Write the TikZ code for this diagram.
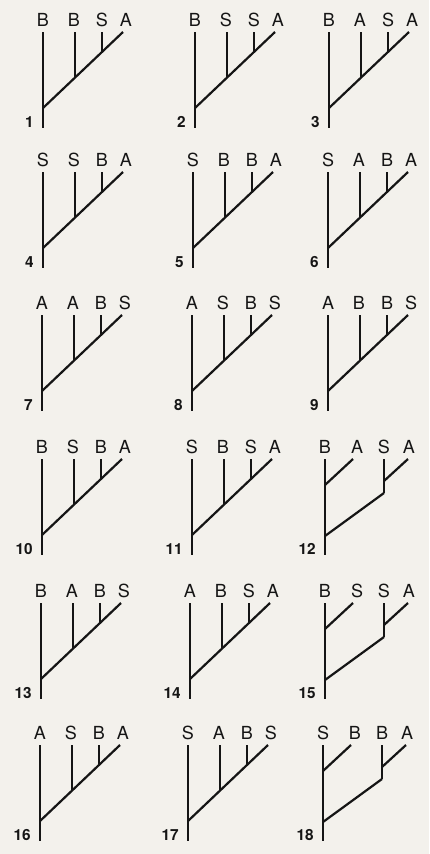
\documentclass[tikz,border=0pt]{standalone}
\usepackage{fontspec}
\setmainfont{TeX Gyre Heros}
\usetikzlibrary{calc}
\definecolor{paper}{HTML}{F3F1EC}
\definecolor{ink}{HTML}{151515}
\tikzset{
  branch/.style={draw=ink, line width=1.65pt},
  leaflabel/.style={text=ink, font=\fontsize{13.5}{15}\selectfont, inner sep=0pt, anchor=base},
  treenum/.style={text=ink, font=\fontsize{11.5}{13}\selectfont\bfseries, inner sep=0pt, anchor=base east},
}
% caterpillar tree: name, root x, tip y, number, four leaf labels
\newcommand\cattree[8]{%
  \coordinate (#1-b) at (#2,#3+96);
  \coordinate (#1-j1) at (#2,#3+76);
  \coordinate (#1-j2) at (#2+32,#3+45.6);
  \coordinate (#1-j3) at (#2+59,#3+19.9);
  \coordinate (#1-t1) at (#2,#3);
  \coordinate (#1-t2) at (#2+32,#3);
  \coordinate (#1-t3) at (#2+59,#3);
  \coordinate (#1-t4) at (#2+80,#3);
  \draw[branch] (#1-t1) -- (#1-b);
  \draw[branch] (#1-j1) -- (#1-t4);
  \draw[branch] (#1-t2) -- (#1-j2);
  \draw[branch] (#1-t3) -- (#1-j3);
  \node[leaflabel] (#1-l1) at (#2,#3-6) {#5};
  \node[leaflabel] (#1-l2) at (#2+31,#3-6) {#6};
  \node[leaflabel] (#1-l3) at (#2+59,#3-6) {#7};
  \node[leaflabel] (#1-l4) at (#2+83,#3-6) {#8};
  \node[treenum] (#1-n) at (#2-9,#3+95) {#4};
}
% balanced tree: name, root x, tip y, number, four leaf labels
\newcommand\baltree[8]{%
  \coordinate (#1-b) at (#2,#3+96);
  \coordinate (#1-jr) at (#2,#3+77);
  \coordinate (#1-jl) at (#2,#3+26);
  \coordinate (#1-t1) at (#2,#3);
  \coordinate (#1-t2) at (#2+28,#3);
  \coordinate (#1-t3) at (#2+59,#3);
  \coordinate (#1-k) at (#2+59,#3+34);
  \coordinate (#1-kj) at (#2+59,#3+22);
  \coordinate (#1-t4) at (#2+83,#3);
  \draw[branch] (#1-t1) -- (#1-b);
  \draw[branch] (#1-jl) -- (#1-t2);
  \draw[branch] (#1-t3) -- (#1-k);
  \draw[branch] (#1-kj) -- (#1-t4);
  \draw[branch] (#1-jr) -- (#1-k);
  \node[leaflabel] (#1-l1) at (#2,#3-6) {#5};
  \node[leaflabel] (#1-l2) at (#2+32,#3-6) {#6};
  \node[leaflabel] (#1-l3) at (#2+59,#3-6) {#7};
  \node[leaflabel] (#1-l4) at (#2+84,#3-6) {#8};
  \node[treenum] (#1-n) at (#2-9,#3+95) {#4};
}
\begin{document}
\begin{tikzpicture}[x=0.75pt, y=-0.75pt]
  \fill[paper] (0,0) rectangle (429,854);
  \useasboundingbox (0,0) rectangle (429,854);
  % row 1
  \cattree{t1}{43}{32}{1}{B}{B}{S}{A}
  \cattree{t2}{195}{32}{2}{B}{S}{S}{A}
  \cattree{t3}{329}{32}{3}{B}{A}{S}{A}
  % row 2
  \cattree{t4}{43}{172}{4}{S}{S}{B}{A}
  \cattree{t5}{193}{172}{5}{S}{B}{B}{A}
  \cattree{t6}{328}{172}{6}{S}{A}{B}{A}
  % row 3
  \cattree{t7}{42}{315}{7}{A}{A}{B}{S}
  \cattree{t8}{192}{315}{8}{A}{S}{B}{S}
  \cattree{t9}{328}{315}{9}{A}{B}{B}{S}
  % row 4
  \cattree{t10}{42}{459}{10}{B}{S}{B}{A}
  \cattree{t11}{192}{459}{11}{S}{B}{S}{A}
  \baltree{t12}{325}{459}{12}{B}{A}{S}{A}
  % row 5
  \cattree{t13}{41}{603}{13}{B}{A}{B}{S}
  \cattree{t14}{190}{603}{14}{A}{B}{S}{A}
  \baltree{t15}{325}{603}{15}{B}{S}{S}{A}
  % row 6
  \cattree{t16}{40}{745}{16}{A}{S}{B}{A}
  \cattree{t17}{188}{745}{17}{S}{A}{B}{S}
  \baltree{t18}{323}{745}{18}{S}{B}{B}{A}
\end{tikzpicture}
\end{document}
